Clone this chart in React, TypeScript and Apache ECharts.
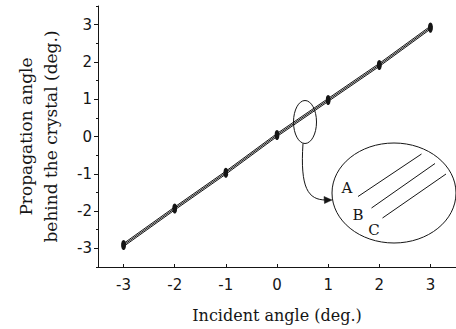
import React, { useEffect, useRef } from "react";
import * as echarts from "echarts";

// Incident angles (deg.) sampled at each integer
const incidentAngles = [-3, -2, -1, 0, 1, 2, 3];
// Propagation angle behind the crystal (deg.) for the three cases
const curveA = [-2.87, -1.89, -0.93, 0.08, 1.02, 1.96, 2.96];
const curveB = [-2.91, -1.93, -0.97, 0.04, 0.98, 1.92, 2.92];
const curveC = [-2.95, -1.97, -1.01, 0.0, 0.94, 1.88, 2.88];

const xTickLabels = [-3, -2, -1, 0, 1, 2, 3];
const yTickLabels = [-3, -2, -1, 0, 1, 2, 3];
const yMinorTicks = [-3.5, -2.5, -1.5, -0.5, 0.5, 1.5, 2.5, 3.5];

const INK = "#151515";
const SERIF = "'DejaVu Serif', 'Liberation Serif', serif";
const SANS = "'DejaVu Sans', sans-serif";

const makeSeries = (name: string, values: number[]) => ({
  name,
  type: "line",
  data: incidentAngles.map((x, i) => [x, values[i]]),
  symbol: "circle",
  symbolSize: [4.5, 7],
  itemStyle: { color: INK },
  lineStyle: { color: INK, width: 1 },
  silent: true,
});

const labelText = (text: string, x: number, y: number) => ({
  type: "text",
  x,
  y,
  style: {
    text,
    fontFamily: SERIF,
    fontSize: 15,
    fill: INK,
    align: "center",
    verticalAlign: "middle",
  },
  z: 101,
});

export default function App() {
  const ref = useRef<HTMLDivElement>(null);

  useEffect(() => {
    if (!ref.current) return;
    const chart = echarts.init(ref.current, undefined, { renderer: "svg" });

    const baseAxis = {
      type: "value",
      min: -3.5,
      max: 3.5,
      splitLine: { show: false },
      axisLine: { show: true, onZero: false, lineStyle: { color: INK, width: 1 } },
    };

    chart.setOption({
      animation: false,
      backgroundColor: "#ffffff",
      grid: {
        left: 98,
        right: 0,
        top: 6,
        bottom: 62,
        containLabel: false,
        outerBoundsMode: "none",
      },
      xAxis: {
        ...baseAxis,
        name: "Incident angle (deg.)",
        nameLocation: "middle",
        nameGap: 40,
        nameTextStyle: { fontFamily: SERIF, fontSize: 16, color: INK },
        axisTick: {
          show: true,
          inside: true,
          length: 3,
          customValues: xTickLabels,
          lineStyle: { color: INK },
        },
        axisLabel: {
          customValues: xTickLabels,
          margin: 10,
          fontFamily: SANS,
          fontSize: 15,
          color: INK,
        },
      },
      yAxis: [
        {
          ...baseAxis,
          name: "Propagation angle\nbehind the crystal (deg.)",
          nameLocation: "middle",
          nameRotate: 90,
          nameGap: 35,
          nameTextStyle: {
            fontFamily: SERIF,
            fontSize: 17,
            lineHeight: 25,
            color: INK,
          },
          axisTick: {
            show: true,
            inside: false,
            length: 4,
            customValues: yTickLabels,
            lineStyle: { color: INK },
          },
          axisLabel: {
            customValues: yTickLabels,
            margin: 6,
            fontFamily: SANS,
            fontSize: 15,
            color: INK,
          },
        },
        {
          ...baseAxis,
          position: "left",
          axisLine: { show: false, onZero: false },
          axisLabel: { show: false },
          axisTick: {
            show: true,
            inside: false,
            length: 2,
            customValues: yMinorTicks,
            lineStyle: { color: INK },
          },
        },
      ],
      series: [
        makeSeries("A", curveA),
        makeSeries("B", curveB),
        makeSeries("C", curveC),
      ],
      graphic: [
        // marker ellipse around the zoomed region of the curves
        {
          type: "ellipse",
          shape: { cx: 305, cy: 122, rx: 11.5, ry: 21.5 },
          style: { fill: "none", stroke: INK, lineWidth: 1 },
          z: 100,
        },
        // connector from the small ellipse to the magnified view
        {
          type: "bezierCurve",
          shape: {
            x1: 303,
            y1: 143.5,
            cpx1: 300,
            cpy1: 188,
            cpx2: 308,
            cpy2: 200,
            x2: 326,
            y2: 200,
          },
          style: { fill: "none", stroke: INK, lineWidth: 1 },
          z: 100,
        },
        {
          type: "polygon",
          shape: { points: [[332, 200], [324, 196.5], [324.5, 203.5]] },
          style: { fill: INK, stroke: INK, lineWidth: 0.5 },
          z: 100,
        },
        // magnified view
        {
          type: "ellipse",
          shape: { cx: 394, cy: 193, rx: 62, ry: 50 },
          style: { fill: "#ffffff", stroke: INK, lineWidth: 1 },
          z: 100,
        },
        {
          type: "line",
          shape: { x1: 358, y1: 196.5, x2: 421.5, y2: 154 },
          style: { stroke: INK, lineWidth: 1 },
          z: 101,
        },
        {
          type: "line",
          shape: { x1: 371.5, y1: 208, x2: 435, y2: 163.5 },
          style: { stroke: INK, lineWidth: 1 },
          z: 101,
        },
        {
          type: "line",
          shape: { x1: 382.5, y1: 218, x2: 446, y2: 174 },
          style: { stroke: INK, lineWidth: 1 },
          z: 101,
        },
        labelText("A", 347, 188),
        labelText("B", 358, 215),
        labelText("C", 374, 230),
      ],
    });

    return () => chart.dispose();
  }, []);

  return (
    <div
      ref={ref}
      style={{ position: "fixed", left: 0, top: 0, width: 456, height: 329 }}
    />
  );
}
